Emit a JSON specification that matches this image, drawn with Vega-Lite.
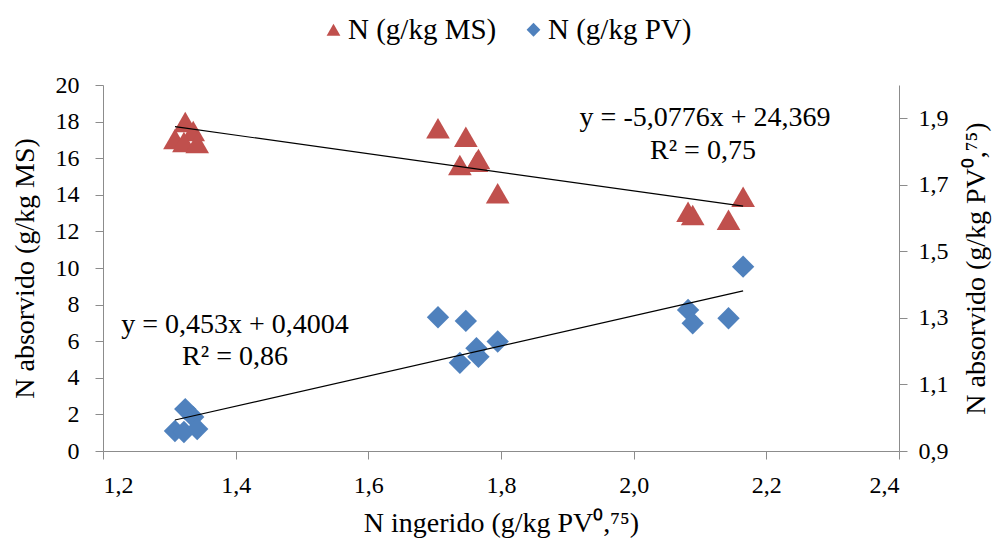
{
  "$schema": "https://vega.github.io/schema/vega-lite/v6.json",
  "autosize": "none",
  "width": 796,
  "height": 366,
  "padding": {"left": 103, "top": 85, "right": 105, "bottom": 89},
  "background": "white",
  "config": {
    "view": {"stroke": null},
    "font": "Liberation Serif",
    "axis": {
      "labelFont": "Liberation Serif", "titleFont": "Liberation Serif",
      "labelFontSize": 24, "titleFontSize": 28, "titleFontWeight": "normal",
      "labelColor": "#000", "titleColor": "#000",
      "domainColor": "#8c8c8c", "tickColor": "#8c8c8c", "tickSize": 8,
      "grid": false
    }
  },
  "datasets": {
    "ms": [
      {"serie": "N (g/kg MS)", "x": 1.3085, "y": 17.05},
      {"serie": "N (g/kg MS)", "x": 1.324, "y": 17.98},
      {"serie": "N (g/kg MS)", "x": 1.336, "y": 17.49},
      {"serie": "N (g/kg MS)", "x": 1.322, "y": 16.89},
      {"serie": "N (g/kg MS)", "x": 1.342, "y": 16.83},
      {"serie": "N (g/kg MS)", "x": 1.705, "y": 17.63},
      {"serie": "N (g/kg MS)", "x": 1.747, "y": 17.17},
      {"serie": "N (g/kg MS)", "x": 1.738, "y": 15.63},
      {"serie": "N (g/kg MS)", "x": 1.763, "y": 15.81},
      {"serie": "N (g/kg MS)", "x": 1.766, "y": 15.95},
      {"serie": "N (g/kg MS)", "x": 1.795, "y": 14.08},
      {"serie": "N (g/kg MS)", "x": 2.082, "y": 13.08},
      {"serie": "N (g/kg MS)", "x": 2.089, "y": 12.9},
      {"serie": "N (g/kg MS)", "x": 2.143, "y": 12.63},
      {"serie": "N (g/kg MS)", "x": 2.165, "y": 13.9}
    ],
    "pv": [
      {"serie": "N (g/kg PV)", "x": 1.3085, "y": 0.96},
      {"serie": "N (g/kg PV)", "x": 1.324, "y": 1.026},
      {"serie": "N (g/kg PV)", "x": 1.336, "y": 1.002},
      {"serie": "N (g/kg PV)", "x": 1.322, "y": 0.957},
      {"serie": "N (g/kg PV)", "x": 1.342, "y": 0.966},
      {"serie": "N (g/kg PV)", "x": 1.705, "y": 1.302},
      {"serie": "N (g/kg PV)", "x": 1.747, "y": 1.291},
      {"serie": "N (g/kg PV)", "x": 1.738, "y": 1.165},
      {"serie": "N (g/kg PV)", "x": 1.763, "y": 1.209},
      {"serie": "N (g/kg PV)", "x": 1.766, "y": 1.183},
      {"serie": "N (g/kg PV)", "x": 1.795, "y": 1.229},
      {"serie": "N (g/kg PV)", "x": 2.082, "y": 1.324},
      {"serie": "N (g/kg PV)", "x": 2.089, "y": 1.284},
      {"serie": "N (g/kg PV)", "x": 2.143, "y": 1.299},
      {"serie": "N (g/kg PV)", "x": 2.165, "y": 1.454}
    ],
    "msline": [{"x": 1.3085, "y": 17.725}, {"x": 2.165, "y": 13.376}],
    "pvline": [{"x": 1.3085, "y": 0.9932}, {"x": 2.165, "y": 1.3811}],
    "mstext": [
      {"x": 2.1076, "y": 18.2, "label": "y = -5,0776x + 24,369"},
      {"x": 2.1045, "y": 16.39, "label": "R² = 0,75"}
    ],
    "pvtext": [
      {"x": 1.399, "y": 1.279, "label": "y = 0,453x + 0,4004"},
      {"x": 1.399, "y": 1.1825, "label": "R² = 0,86"}
    ]
  },
  "layer": [
    {
      "encoding": {
        "x": {
          "field": "x", "type": "quantitative",
          "scale": {"domain": [1.2, 2.4], "nice": false, "zero": false},
          "axis": {
            "values": [1.2, 1.4, 1.6, 1.8, 2.0, 2.2, 2.4],
            "labelExpr": "replace(format(datum.value, '.1f'), '.', ',')",
            "title": "N ingerido (g/kg PV⁰,⁷⁵)",
            "labelPadding": 14, "titlePadding": 12
          }
        },
        "y": {
          "field": "y", "type": "quantitative",
          "scale": {"domain": [0, 20], "nice": false},
          "axis": {
            "orient": "left",
            "values": [0, 2, 4, 6, 8, 10, 12, 14, 16, 18, 20],
            "title": "N absorvido (g/kg MS)",
            "labelPadding": 16, "titlePadding": 16
          }
        }
      },
      "layer": [
        {
          "data": {"name": "ms"},
          "mark": {"type": "point", "filled": true, "opacity": 1, "size": 560},
          "encoding": {
            "color": {"field": "serie", "type": "nominal",
              "scale": {"domain": ["N (g/kg MS)", "N (g/kg PV)"], "range": ["#C0504D", "#4F81BD"]},
              "legend": {"orient": "none", "legendX": 216, "legendY": -70, "direction": "horizontal", "title": null,
                "labelFont": "Liberation Serif", "labelFontSize": 29, "labelColor": "#000",
                "symbolSize": 190, "columnPadding": 22, "labelOffset": 0, "symbolOpacity": 1}},
            "shape": {"field": "serie", "type": "nominal",
              "scale": {"domain": ["N (g/kg MS)", "N (g/kg PV)"], "range": ["triangle-up", "diamond"]},
              "legend": {"orient": "none", "legendX": 216, "legendY": -70, "direction": "horizontal", "title": null,
                "labelFont": "Liberation Serif", "labelFontSize": 29, "labelColor": "#000",
                "symbolSize": 190, "columnPadding": 22, "labelOffset": 0, "symbolOpacity": 1}}
          }
        },
        {
          "data": {"name": "msline"},
          "mark": {"type": "line", "color": "#000", "strokeWidth": 1.2},
          "encoding": {}
        },
        {
          "data": {"name": "mstext"},
          "mark": {"type": "text", "font": "Liberation Serif", "fontSize": 28, "color": "#000", "align": "center", "baseline": "middle"},
          "encoding": {"text": {"field": "label"}}
        }
      ]
    },
    {
      "encoding": {
        "x": {
          "field": "x", "type": "quantitative",
          "scale": {"domain": [1.2, 2.4], "nice": false, "zero": false}
        },
        "y": {
          "field": "y", "type": "quantitative",
          "scale": {"domain": [0.9, 2.0], "nice": false, "zero": false},
          "axis": {
            "orient": "right",
            "values": [0.9, 1.1, 1.3, 1.5, 1.7, 1.9],
            "labelExpr": "replace(format(datum.value, '.1f'), '.', ',')",
            "title": "N absorvido (g/kg PV⁰,⁷⁵)",
            "titleAngle": 270, "titleBaseline": "top",
            "labelPadding": 11, "titlePadding": 14
          }
        }
      },
      "layer": [
        {
          "data": {"name": "pv"},
          "mark": {"type": "point", "filled": true, "opacity": 1, "size": 500},
          "encoding": {
            "color": {"field": "serie", "type": "nominal"},
            "shape": {"field": "serie", "type": "nominal"}
          }
        },
        {
          "data": {"name": "pvline"},
          "mark": {"type": "line", "color": "#000", "strokeWidth": 1.2},
          "encoding": {}
        },
        {
          "data": {"name": "pvtext"},
          "mark": {"type": "text", "font": "Liberation Serif", "fontSize": 28, "color": "#000", "align": "center", "baseline": "middle"},
          "encoding": {"text": {"field": "label"}}
        }
      ]
    }
  ],
  "resolve": {"scale": {"y": "independent"}}
}
